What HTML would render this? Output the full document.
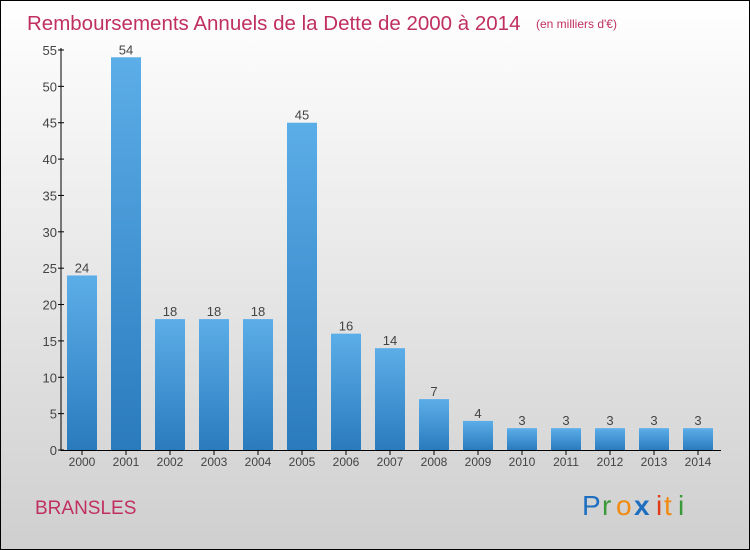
<!DOCTYPE html>
<html><head><meta charset="utf-8"><style>
body{margin:0}
#c{width:750px;height:550px;position:relative;overflow:hidden;font-family:"Liberation Sans",sans-serif}
</style></head><body>
<div id="c">
<svg id="s" width="750" height="550" xmlns="http://www.w3.org/2000/svg">
<defs>
<linearGradient id="bg" x1="0" y1="0" x2="0" y2="1"><stop offset="0" stop-color="#ffffff"/><stop offset="1" stop-color="#cfcfcf"/></linearGradient>
<linearGradient id="bar" x1="0" y1="0" x2="0" y2="1"><stop offset="0" stop-color="#5caee8"/><stop offset="1" stop-color="#2a7bbd"/></linearGradient>
</defs>
<rect x="0.5" y="0.5" width="749" height="549" fill="url(#bg)" stroke="#000"/>
<text x="27" y="30" font-size="20.5" fill="#c0305f">Remboursements Annuels de la Dette de 2000 à 2014</text>
<text x="536" y="28" font-size="12" fill="#c0305f">(en milliers d'€)</text>
<text x="35" y="514" font-size="19" fill="#c0305f">BRANSLES</text>
<g id="logo" font-size="28">
<text x="582" y="515" fill="#1f6fc0">P</text><text x="602" y="515" fill="#3a9a3a">r</text><text x="616" y="515" fill="#f08a10">o</text><text x="634" y="515" fill="#1f6fc0" font-weight="bold">x</text><text x="656" y="515" fill="#e03b1a">i</text><text x="664" y="515" fill="#f08a10">t</text><text x="678" y="515" fill="#3a9a3a">i</text>
</g>
<g id="g"></g>
</svg>
</div>
<script>
const years=["2000","2001","2002","2003","2004","2005","2006","2007","2008","2009","2010","2011","2012","2013","2014"];
const values=[24,54,18,18,18,45,16,14,7,4,3,3,3,3,3];
const yTicks=[0,5,10,15,20,25,30,35,40,45,50,55];
const NS="http://www.w3.org/2000/svg";
const g=document.getElementById('g');
const y=v=>450-v*400/55;
const x=i=>82+44*i;
function mk(t,a,txt){const e=document.createElementNS(NS,t);for(const k in a)e.setAttribute(k,a[k]);if(txt!==undefined)e.textContent=txt;g.appendChild(e);return e;}
let ax=mk('line',{x1:61,y1:48,x2:61,y2:451,stroke:'#000','stroke-width':1});


let bx=mk('line',{x1:61,y1:450.5,x2:721,y2:450.5,stroke:'#000','stroke-width':1});


yTicks.forEach(t=>{
 let l=mk('line',{x1:58,y1:y(t),x2:64,y2:y(t),stroke:'#000'});
 
 
 let tx=mk('text',{x:57,y:y(t)+5,'text-anchor':'end','font-size':13,fill:'#444'},t);
 
 
});
values.forEach((v,i)=>{
 let r=mk('rect',{x:x(i)-15,y:y(v),width:30,height:450-y(v),fill:'url(#bar)'});
 
 
 let vl=mk('text',{x:x(i),y:y(v)-3,'text-anchor':'middle','font-size':13,fill:'#444'},v);
 
 
 let tk=mk('line',{x1:x(i),y1:450,x2:x(i),y2:455,stroke:'#000'});
 
 
 let xl=mk('text',{x:x(i),y:466,'text-anchor':'middle','font-size':12,fill:'#444'},years[i]);
 
 
});
</script>
</body></html>
